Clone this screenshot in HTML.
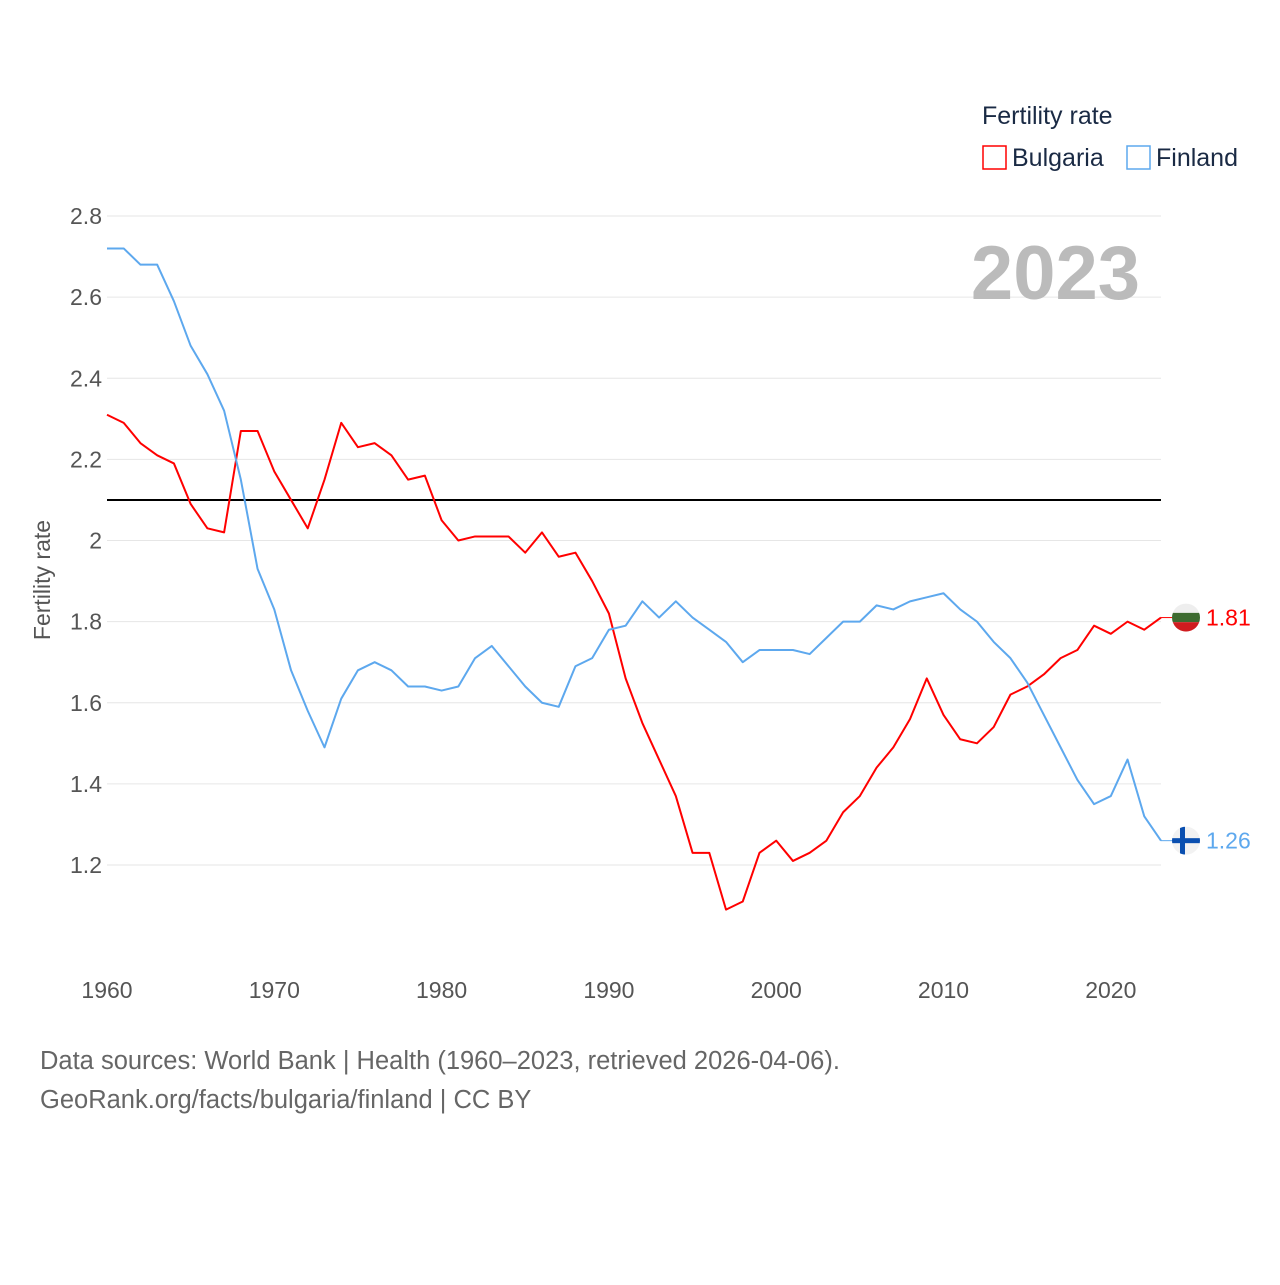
<!DOCTYPE html>
<html><head><meta charset="utf-8">
<style>
html,body{margin:0;padding:0;background:#fff;}
body{width:1280px;height:1280px;overflow:hidden;font-family:"Liberation Sans",sans-serif;}
</style></head>
<body>
<svg id="chart" width="1280" height="1280" xmlns="http://www.w3.org/2000/svg" font-family="Liberation Sans, sans-serif">
  <defs>
    <clipPath id="cb"><circle id="cbc" cx="1186" cy="0" r="14"/></clipPath>
    <clipPath id="cf"><circle id="cfc" cx="1186" cy="0" r="14"/></clipPath>
  </defs>
  <g id="grid"></g>
  <g id="yticks"></g>
  <g id="xticks"></g>
  <text transform="translate(50,580) rotate(-90)" text-anchor="middle" font-size="23" fill="#555">Fertility rate</text>
  <text x="1140" y="299" text-anchor="end" font-size="76" font-weight="bold" fill="#bbb">2023</text>
  <g>
    <text x="982" y="124" font-size="25" fill="#1a2a44">Fertility rate</text>
    <rect x="983" y="146" width="23" height="23" fill="none" stroke="#f00" stroke-width="1.5"/>
    <text x="1012" y="166" font-size="25" fill="#1a2a44">Bulgaria</text>
    <rect x="1127" y="146" width="23" height="23" fill="none" stroke="#5da8ee" stroke-width="1.5"/>
    <text x="1156" y="166" font-size="25" fill="#1a2a44">Finland</text>
  </g>
  <g id="series"></g>
  <text x="40" y="1069" font-size="25.5" fill="#666">Data sources: World Bank | Health (1960–2023, retrieved 2026-04-06).</text>
  <text x="40" y="1108" font-size="25.5" fill="#666">GeoRank.org/facts/bulgaria/finland | CC BY</text>
</svg>
<script>
const years = [];
for (let y = 1960; y <= 2023; y++) years.push(y);
const bulgaria = [2.31,2.29,2.24,2.21,2.19,2.09,2.03,2.02,2.27,2.27,2.17,2.10,2.03,2.15,2.29,2.23,2.24,2.21,2.15,2.16,2.05,2.00,2.01,2.01,2.01,1.97,2.02,1.96,1.97,1.90,1.82,1.66,1.55,1.46,1.37,1.23,1.23,1.09,1.11,1.23,1.26,1.21,1.23,1.26,1.33,1.37,1.44,1.49,1.56,1.66,1.57,1.51,1.50,1.54,1.62,1.64,1.67,1.71,1.73,1.79,1.77,1.80,1.78,1.81];
const finland = [2.72,2.72,2.68,2.68,2.59,2.48,2.41,2.32,2.15,1.93,1.83,1.68,1.58,1.49,1.61,1.68,1.70,1.68,1.64,1.64,1.63,1.64,1.71,1.74,1.69,1.64,1.60,1.59,1.69,1.71,1.78,1.79,1.85,1.81,1.85,1.81,1.78,1.75,1.70,1.73,1.73,1.73,1.72,1.76,1.80,1.80,1.84,1.83,1.85,1.86,1.87,1.83,1.80,1.75,1.71,1.65,1.57,1.49,1.41,1.35,1.37,1.46,1.32,1.26];
const yTicks = [1.2,1.4,1.6,1.8,2.0,2.2,2.4,2.6,2.8];
const yTickLabels = ["1.2","1.4","1.6","1.8","2","2.2","2.4","2.6","2.8"];
const xTicks = [1960,1970,1980,1990,2000,2010,2020];
const refValue = 2.1;

const NS = "http://www.w3.org/2000/svg";
const xS = y => 107 + (y - 1960) * (1161 - 107) / 63;
const yS = v => 865 - (v - 1.2) * (865 - 216) / 1.6;
function mk(tag, attrs, parent) { const e = document.createElementNS(NS, tag); for (const k in attrs) e.setAttribute(k, attrs[k]); parent.appendChild(e); return e; }

const grid = document.getElementById('grid'), yt = document.getElementById('yticks'), xt = document.getElementById('xticks'), ser = document.getElementById('series');
yTicks.forEach((v, i) => {
  const l = mk('line', {x1: 107, x2: 1161, y1: yS(v), y2: yS(v), stroke: '#e6e6e6', 'stroke-width': 1}, grid);
  
  
  const t = mk('text', {x: 102, y: yS(v) + 8, 'text-anchor': 'end', 'font-size': 23, fill: '#555'}, yt);
  t.textContent = yTickLabels[i];
  
  
});
xTicks.forEach(y => {
  const t = mk('text', {x: xS(y), y: 998, 'text-anchor': 'middle', 'font-size': 23, fill: '#555'}, xt);
  t.textContent = y;
  
  
});
const ref = mk('line', {x1: 107, x2: 1161, y1: yS(refValue), y2: yS(refValue), stroke: '#000', 'stroke-width': 2}, ser);



function drawSeries(vals, color, name) {
  const p = mk('polyline', {points: vals.map((v, i) => xS(years[i]) + ',' + yS(v)).join(' '), fill: 'none', stroke: color, 'stroke-width': 2, 'stroke-linejoin': 'round'}, ser);
  
  
  const last = vals[vals.length - 1], cy = yS(last);
  mk('line', {x1: 1161, x2: 1172, y1: cy, y2: cy, stroke: color, 'stroke-width': 1}, ser);
  const lbl = mk('text', {x: 1206, y: cy + 8, 'font-size': 23, fill: color}, ser);
  lbl.textContent = last.toFixed(2);
  
  
  return cy;
}
const by = drawSeries(bulgaria, '#f00', 'bulgaria');
const fy = drawSeries(finland, '#5da8ee', 'finland');
document.getElementById('cbc').setAttribute('cy', by);
document.getElementById('cfc').setAttribute('cy', fy);

const bg = mk('g', {'clip-path': 'url(#cb)'}, ser);


mk('rect', {x: 1172, y: by - 14, width: 28, height: 9.3, fill: '#eee'}, bg);
mk('rect', {x: 1172, y: by - 4.7, width: 28, height: 9.3, fill: '#3d6b30'}, bg);
mk('rect', {x: 1172, y: by + 4.6, width: 28, height: 9.4, fill: '#d01c1f'}, bg);
const fg = mk('g', {'clip-path': 'url(#cf)'}, ser);


mk('rect', {x: 1172, y: fy - 14, width: 28, height: 28, fill: '#f2f2f2'}, fg);
mk('rect', {x: 1172, y: fy - 2.5, width: 28, height: 5, fill: '#0a4fb0'}, fg);
mk('rect', {x: 1180, y: fy - 14, width: 5, height: 28, fill: '#0a4fb0'}, fg);
</script>
</body></html>
